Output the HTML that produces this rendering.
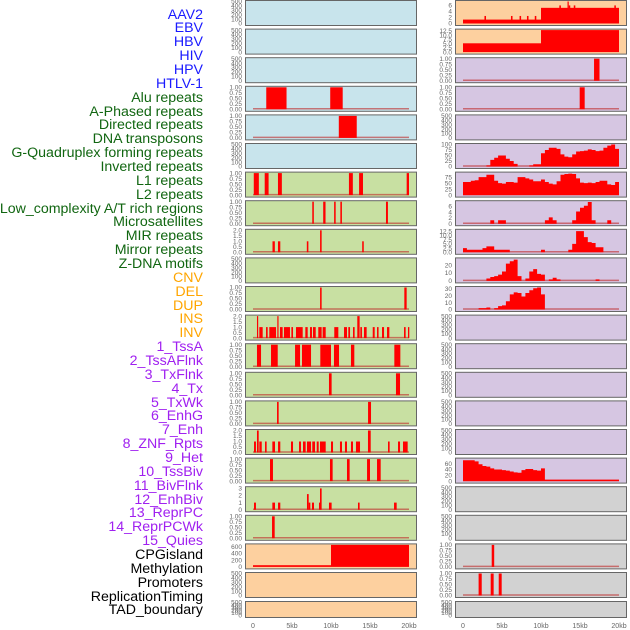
<!DOCTYPE html>
<html><head><meta charset="utf-8">
<style>
html,body{margin:0;padding:0;background:#fff;}
body{width:630px;height:630px;overflow:hidden;position:relative;font-family:"Liberation Sans",sans-serif;}
.lab{position:absolute;right:427px;font-size:14.2px;line-height:14px;white-space:nowrap;text-align:right;}
svg{position:absolute;left:0;top:0;}
</style></head>
<body>
<div id="labels"></div>
<svg id="chart" width="630" height="630"></svg>
<script>
// ---- labels ----
const labelNames = ["AAV2","EBV","HBV","HIV","HPV","HTLV-1","Alu repeats","A-Phased repeats","Directed repeats","DNA transposons","G-Quadruplex forming repeats","Inverted repeats","L1 repeats","L2 repeats","Low_complexity A/T rich regions","Microsatellites","MIR repeats","Mirror repeats","Z-DNA motifs","CNV","DEL","DUP","INS","INV","1_TssA","2_TssAFlnk","3_TxFlnk","4_Tx","5_TxWk","6_EnhG","7_Enh","8_ZNF_Rpts","9_Het","10_TssBiv","11_BivFlnk","12_EnhBiv","13_ReprPC","14_ReprPCWk","15_Quies","CPGisland","Methylation","Promoters","ReplicationTiming","TAD_boundary"];
const labelGroupSizes = [6,13,5,15,5];
const labelColors = ["#1a1aff","#116611","#ffa500","#a020f0","#000000"];

// ---- x axis ----
const xTickValues = [0,5,10,15,20];
const xTickLabels = ["0","5kb","10kb","15kb","20kb"];

// ---- left column data (kb segments) ----
const L3_start=[1.7,9.9], L3_end=[4.3,11.5], L3_h=[1,1];
const L4_start=[11.0], L4_end=[13.3], L4_h=[1];
const L6_start=[0.1,1.5,3.2,12.3,13.6,19.7], L6_end=[0.75,2.0,3.7,12.8,14.1,20.0], L6_h=[1,1,1,1,1,1];
const L7_start=[7.6,9.0,10.4,11.2,17.05], L7_end=[7.8,9.3,10.6,11.4,17.3], L7_h=[1,1,1,1,1];
const L8_start=[2.5,3.2,6.9,8.6,14.0], L8_end=[2.8,3.5,7.1,8.8,14.2], L8_h=[1,1,1,2,1];
const L10_start=[8.6,19.4], L10_end=[8.8,19.7], L10_h=[1,1];
const L11_start=[0.51,0.81,1.67,2.09,3.12,3.46,3.97,4.92,5.51,6.71,7.31,7.69,8.37,8.93,10.42,11.67,12.22,12.82,13.37,13.76,14.23,15.35,15.9,16.54,17.18,19.36,19.87];
const L11_end=[0.65,1.24,1.88,2.95,3.25,3.8,4.74,5.13,6.37,7.01,7.56,8.04,8.8,9.32,10.94,12.05,12.44,13.03,13.67,13.97,14.57,15.6,16.1,16.8,17.48,19.57,20.04];
const L11_h=[2,1,1,1,2,1,1,1,1,1,1,1,1,1,1,1,1,1,2,1,1,1,1,1,1,1,1];
const L12_start=[0.51,2.31,5.39,6.28,8.63,10.38,12.56,18.12], L12_end=[1.03,3.17,6.03,7.44,10.0,11.03,12.99,18.89], L12_h=[1,1,1,1,1,1,1,1];
const L13_start=[9.74,18.33], L13_end=[10.08,18.85], L13_h=[1,1];
const L14_start=[3.08,14.75], L14_end=[3.29,15.13], L14_h=[1,1];
const L15_start=[0.13,0.51,0.81,1.54,2.48,3.21,4.87,5.9,6.41,6.92,7.6,8.17,8.59,10.0,11.15,11.79,12.56,13.2,14.74,17.31,18.59,19.23];
const L15_end=[0.38,0.73,1.12,1.75,2.82,3.5,5.13,6.15,6.75,7.44,7.95,8.42,9.32,10.26,11.41,12.05,12.82,13.72,15.09,17.52,18.85,19.83];
const L15_h=[1,2,1,1,1,1,1,1,1,1,1,1,1,1,1,1,1,1,2,1,1,1];
const L16_start=[2.18,9.87,12.05,14.62,15.9], L16_end=[2.56,10.21,12.39,15.0,16.37], L16_h=[1,1,1,1,1];
const L17_start=[0.13,2.48,3.21,6.92,7.14,7.56,8.46,8.59,9.74,13.46,18.08], L17_end=[0.38,2.82,3.5,7.14,7.35,7.82,8.68,8.8,10.08,13.67,18.42], L17_h=[1,1,1,2.2,1,1,1,3,1,1,1];
const L18_start=[2.44], L18_end=[2.78], L18_h=[1];
const L19_start=[0,10], L19_end=[10,20], L19_h=[50,650];

// ---- right column data ----
const R0_start=[0,2.75,6.15,7.25,8.2,9.2,10,12.35,13.4,13.55,14.2,19.4], R0_end=[10,2.95,6.35,7.45,8.4,9.4,20,12.55,13.55,13.75,14.4,19.6], R0_h=[1.3,2.5,2.5,2.5,2.5,2.5,5.2,6,7.3,6,6,6];
const R1_start=[0,10], R1_end=[10,20], R1_h=[5.2,13];
const R2_start=[16.8], R2_end=[17.5], R2_h=[1];
const R3_start=[14.96], R3_end=[15.6], R3_h=[1];
const R15_start=[3.68], R15_end=[4.0], R15_h=[1];
const R16_start=[2.0,3.55,4.58], R16_end=[2.4,3.93,4.96], R16_h=[1,1,1];
// binned profiles (0.5kb bins, 40 bins)
const R5_bins=[0,0,0,0,0,0,5,30,40,50,50,35,25,12,0,0,0,5,10,10,60,75,85,85,80,55,45,42,55,68,70,72,78,75,70,72,85,95,100,80];
const R6_bins=[55,55,60,62,75,75,85,85,60,50,48,55,55,52,75,75,70,65,58,58,65,55,48,45,58,85,88,90,88,70,52,50,52,50,55,60,60,45,42,55];
const R7_bins=[0,0,0,0,0,0,0,1.2,0,1.2,1.2,0,0,0,0,0,0,0,0,0,0,1.2,2.2,1.2,0,0,0,0,1.2,4.2,5.5,6.2,7.5,1.2,0,0,0,1.2,0,0];
const R8_bins=[2.5,1.5,1.5,1.5,1.5,2.5,3.5,3.5,1.5,1.5,1.5,1.5,0,0,0,0,0,0,0,0,1.5,0,0,0,0,0,0,1.5,5,12.5,12.5,9,6,5.5,3,3,0,0,0,0];
const R9_bins=[0,0,0,0,0,0,3,5,6,8,12,22,25,27,6,0,3,12,15,9,8,0,2,4,2,0,0,0,0,0,0,0,0,0,2,0,0,0,0,0];
const R10_bins=[0,0,0,0,2,2,3,0,2,5,6,12,22,25,24,19,24,28,31,32,22,0,0,0,0,0,0,0,0,0,0,0,0,0,0,0,0,0,0,0];
const R16b_bins=[72,72,72,68,58,52,50,44,40,40,38,36,33,30,29,38,42,42,38,36,44,5,5,5,5,5,5,5,5,5,5,5,5,5,5,5,5,5,5,5];

const BLUE="#c8e4ec",GREEN="#c8e0a2",ORANGE="#fdd09f",PURPLE="#d6c6e2",GRAY="#d2d2d2";
const T500=[0,100,200,300,400,500], T1=[0,0.25,0.5,0.75,1], T2=[0,0.5,1,1.5,2], T3=[0,1,2,3];

function seg(s,e,h){return {type:"seg",s:s,e:e,h:h};}
function bins(b){return {type:"bin",b:b};}
const leftPanels=[
 {bg:BLUE,ymax:500,ticks:T500},{bg:BLUE,ymax:500,ticks:T500},{bg:BLUE,ymax:500,ticks:T500},
 {bg:BLUE,ymax:1,ticks:T1,fmt:2,d:seg(L3_start,L3_end,L3_h)},
 {bg:BLUE,ymax:1,ticks:T1,fmt:2,d:seg(L4_start,L4_end,L4_h)},
 {bg:BLUE,ymax:500,ticks:T500},
 {bg:GREEN,ymax:1,ticks:T1,fmt:2,d:seg(L6_start,L6_end,L6_h)},
 {bg:GREEN,ymax:1,ticks:T1,fmt:2,d:seg(L7_start,L7_end,L7_h)},
 {bg:GREEN,ymax:2,ticks:T2,fmt:1,d:seg(L8_start,L8_end,L8_h)},
 {bg:GREEN,ymax:500,ticks:T500},
 {bg:GREEN,ymax:1,ticks:T1,fmt:2,d:seg(L10_start,L10_end,L10_h)},
 {bg:GREEN,ymax:2,ticks:T2,fmt:1,d:seg(L11_start,L11_end,L11_h)},
 {bg:GREEN,ymax:1,ticks:T1,fmt:2,d:seg(L12_start,L12_end,L12_h)},
 {bg:GREEN,ymax:1,ticks:T1,fmt:2,d:seg(L13_start,L13_end,L13_h)},
 {bg:GREEN,ymax:1,ticks:T1,fmt:2,d:seg(L14_start,L14_end,L14_h)},
 {bg:GREEN,ymax:2,ticks:T2,fmt:1,d:seg(L15_start,L15_end,L15_h)},
 {bg:GREEN,ymax:1,ticks:T1,fmt:2,d:seg(L16_start,L16_end,L16_h)},
 {bg:GREEN,ymax:3.1,ticks:T3,fmt:0,d:seg(L17_start,L17_end,L17_h)},
 {bg:GREEN,ymax:1,ticks:T1,fmt:2,d:seg(L18_start,L18_end,L18_h)},
 {bg:ORANGE,ymax:650,ticks:[0,200,400,600],d:seg(L19_start,L19_end,L19_h),nobase:true},
 {bg:ORANGE,ymax:500,ticks:T500},
 {bg:ORANGE,ymax:500,ticks:T500}
];
const rightPanels=[
 {bg:ORANGE,ymax:7.3,ticks:[0,2,4,6],d:seg(R0_start,R0_end,R0_h),nobase:true},
 {bg:ORANGE,ymax:13,ticks:[0,2.5,5,7.5,10,12.5],fmt:1,d:seg(R1_start,R1_end,R1_h),nobase:true},
 {bg:PURPLE,ymax:1,ticks:T1,fmt:2,d:seg(R2_start,R2_end,R2_h)},
 {bg:PURPLE,ymax:1,ticks:T1,fmt:2,d:seg(R3_start,R3_end,R3_h)},
 {bg:PURPLE,ymax:500,ticks:T500},
 {bg:PURPLE,ymax:100,ticks:[0,25,50,75,100],d:bins(R5_bins)},
 {bg:PURPLE,ymax:92,ticks:[0,25,50,75],d:bins(R6_bins)},
 {bg:PURPLE,ymax:7.6,ticks:[0,2,4,6],d:bins(R7_bins)},
 {bg:PURPLE,ymax:13,ticks:[0,2.5,5,7.5,10,12.5],fmt:1,d:bins(R8_bins)},
 {bg:PURPLE,ymax:28,ticks:[0,10,20],d:bins(R9_bins)},
 {bg:PURPLE,ymax:32,ticks:[0,10,20,30],d:bins(R10_bins)},
 {bg:PURPLE,ymax:500,ticks:T500},{bg:PURPLE,ymax:500,ticks:T500},{bg:PURPLE,ymax:500,ticks:T500},
 {bg:PURPLE,ymax:500,ticks:T500},{bg:PURPLE,ymax:500,ticks:T500},
 {bg:PURPLE,ymax:76,ticks:[0,20,40,60],d:bins(R16b_bins)},
 {bg:GRAY,ymax:500,ticks:T500},{bg:GRAY,ymax:500,ticks:T500},
 {bg:GRAY,ymax:1,ticks:T1,fmt:2,d:seg(R15_start,R15_end,R15_h)},
 {bg:GRAY,ymax:1,ticks:T1,fmt:2,d:seg(R16_start,R16_end,R16_h)},
 {bg:GRAY,ymax:500,ticks:T500}
];

const NS="http://www.w3.org/2000/svg";
const svg=document.getElementById("chart");
function mk(tag,attrs,parent){const e=document.createElementNS(NS,tag);for(const k in attrs)e.setAttribute(k,attrs[k]);(parent||svg).appendChild(e);return e;}

// labels
const labDiv=document.getElementById("labels");
let li=0;
labelGroupSizes.forEach((n,g)=>{for(let k=0;k<n;k++){const d=document.createElement("div");d.className="lab";d.textContent=labelNames[li];d.style.color=labelColors[g];d.style.top=(15+li*13.86-7.5)+"px";


labDiv.appendChild(d);li++;}});

const PX0_L=245,PX0_R=455,PW=171,KB0_L=253,KB0_R=463,PXKB=7.8;
function rowTop(i){return i<21?i*28.6:601;}
function rowH(i){return i<21?25:16;}

function drawPanel(p,i,col){
  const px=col?PX0_R:PX0_L, k0=col?KB0_R:KB0_L;
  const t=rowTop(i),h=rowH(i),bot=t+h-1.5;
  const xs=kb=>k0+kb*PXKB;
  const ys=v=>bot-v/p.ymax*(h-3);
  const g=mk("g",{});
  
  
  const r=mk("rect",{x:px+0.5,y:t+0.5,width:PW,height:h,fill:p.bg,stroke:"#666",'stroke-width':1},g);
  
  
  // ticks
  p.ticks.forEach(v=>{
    const tx=mk("text",{x:px-3,y:ys(v)+2.2,'font-size':6.5,fill:"#666",'text-anchor':"end",'font-family':"Liberation Sans, sans-serif"},g);
    tx.textContent=p.fmt?v.toFixed(p.fmt):String(v);
    
    
  });
  if(!p.d)return;
  if(!p.nobase){
    const bl=mk("line",{x1:xs(0),x2:xs(20),y1:bot-0.5,y2:bot-0.5,stroke:"rgba(190,40,40,0.6)",'stroke-width':1.5},g);
    
    
  }
  if(p.d.type==="seg"){
    p.d.s.forEach((s,j)=>{
      const e=p.d.e[j],v=p.d.h[j];
      const y=ys(v);
      const b=mk("rect",{x:xs(s),y:y,width:Math.max(1.2,xs(e)-xs(s)),height:bot-y,fill:"#ff0000"},g);
      
      
    });
  } else {
    let d="M"+xs(0)+","+bot;
    p.d.b.forEach((v,j)=>{d+=" L"+xs(j*0.5)+","+ys(v)+" L"+xs((j+1)*0.5)+","+ys(v);});
    d+=" L"+xs(20)+","+bot+" Z";
    const a=mk("path",{d:d,fill:"#ff0000"},g);
    
    
  }
}
leftPanels.forEach((p,i)=>drawPanel(p,i,0));
rightPanels.forEach((p,i)=>drawPanel(p,i,1));

// x axis
[KB0_L,KB0_R].forEach(k0=>{
  xTickValues.forEach((v,j)=>{
    const t=mk("text",{x:k0+v*PXKB,y:628,'font-size':7,fill:"#666",'text-anchor':"middle",'font-family':"Liberation Sans, sans-serif"});
    t.textContent=xTickLabels[j];
    
    
  });
});
</script>
</body></html>
